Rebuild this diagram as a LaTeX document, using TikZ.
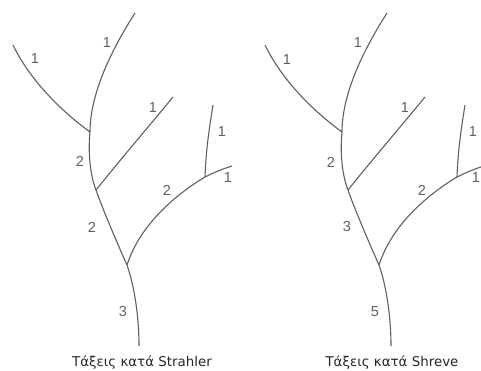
\documentclass[tikz,border=0pt]{standalone}
\usepackage{fontspec}
\setmainfont{DejaVu Sans}
\newfontfamily\numfont{Liberation Sans}
\definecolor{streamgray}{RGB}{95,95,95}

\begin{document}
\begin{tikzpicture}[x=1pt, y=-1pt,
    stream/.style = {draw=streamgray, line width=1.1pt},
    order/.style = {font=\numfont\fontsize{14.5}{14.5}\selectfont, text=streamgray, inner sep=0pt},
    caption/.style = {font=\fontsize{13.4}{15}\selectfont, text=black!85, inner sep=0pt}]

    \useasboundingbox (0,0) rectangle (481,371);
    \clip (0,0) rectangle (481,371);

    % the same stream network, twice
    \foreach \t/\dx in {sa/0, sb/252}{
        \begin{scope}[xshift=\dx pt]
            \coordinate (\t-src1) at (135,13);
            \coordinate (\t-src2) at (13,45);
            \coordinate (\t-src3) at (173,97);
            \coordinate (\t-src4) at (213,105);
            \coordinate (\t-src5) at (232,166);
            \coordinate (\t-j2) at (90,132);
            \coordinate (\t-j3) at (96,190);
            \coordinate (\t-j4) at (205,177);
            \coordinate (\t-j1) at (127,265);
            \coordinate (\t-out) at (139,346);

            \draw[stream] (\t-src1) .. controls (105,60) and (90,100) .. (\t-j2)
                .. controls (88,152) and (90,175) .. (\t-j3)
                .. controls (103,210) and (118,245) .. (\t-j1)
                .. controls (134,285) and (139,315) .. (\t-out);
            \draw[stream] (\t-src2) .. controls (30,80) and (60,110) .. (\t-j2);
            \draw[stream] (\t-j3) .. controls (120,160) and (150,125) .. (\t-src3);
            \draw[stream] (\t-j1) .. controls (140,225) and (175,195) .. (\t-j4)
                .. controls (215,172) and (225,168) .. (\t-src5);
            \draw[stream] (\t-src4) .. controls (209,130) and (206,150) .. (\t-j4);
        \end{scope}
    }

    % Strahler
    \node[order] (sa-o1) at (35,59) {1};
    \node[order] (sa-o2) at (107,43) {1};
    \node[order] (sa-o3) at (153,108) {1};
    \node[order] (sa-o4) at (80,161) {2};
    \node[order] (sa-o5) at (92,227) {2};
    \node[order] (sa-o6) at (123,312) {3};
    \node[order] (sa-o7) at (167,190) {2};
    \node[order] (sa-o8) at (222,132) {1};
    \node[order] (sa-o9) at (228,178) {1};
    \node[caption] (sa-cap) at (142,363) {Τάξεις κατά Strahler};

    % Shreve
    \node[order] (sb-o1) at (287,60) {1};
    \node[order] (sb-o2) at (358,43) {1};
    \node[order] (sb-o3) at (405,108) {1};
    \node[order] (sb-o4) at (331,162) {2};
    \node[order] (sb-o5) at (347,227) {3};
    \node[order] (sb-o6) at (375,312) {5};
    \node[order] (sb-o7) at (422,190) {2};
    \node[order] (sb-o8) at (473,132) {1};
    \node[order] (sb-o9) at (476,178) {1};
    \node[caption] (sb-cap) at (392,363) {Τάξεις κατά Shreve};

\end{tikzpicture}
\end{document}
